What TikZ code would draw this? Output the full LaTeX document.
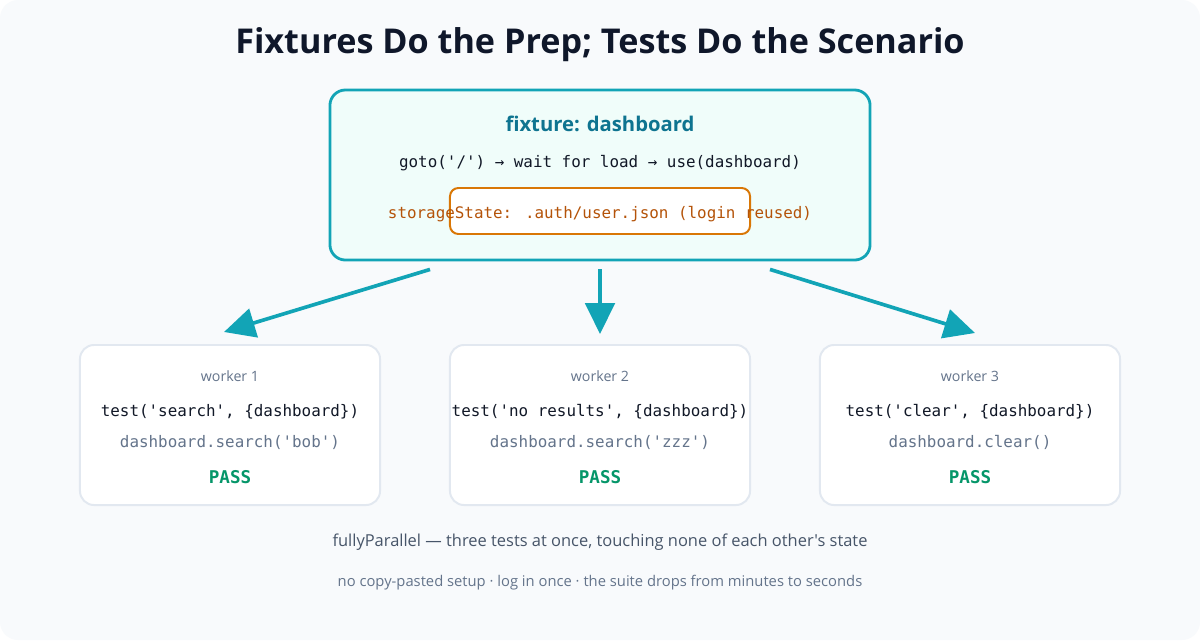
\documentclass[tikz,border=0pt]{standalone}
\usepackage{fontspec}
\setmainfont{Open Sans}[Ligatures=TeXOff]
\newfontfamily\codefont{DejaVu Sans Mono}[Ligatures=TeXOff]
\usetikzlibrary{arrows.meta,calc}

\definecolor{pagebg}{HTML}{F8FAFC}
\definecolor{ink}{HTML}{0F172A}
\definecolor{codeink}{HTML}{111827}
\definecolor{tealline}{HTML}{12A4B6}
\definecolor{tealbg}{HTML}{F0FDFA}
\definecolor{tealtext}{HTML}{0E7490}
\definecolor{orangeline}{HTML}{D97706}
\definecolor{orangetext}{HTML}{B45309}
\definecolor{cardline}{HTML}{E2E8F0}
\definecolor{muted}{HTML}{64748B}
\definecolor{slate}{HTML}{475569}
\definecolor{passgreen}{HTML}{059669}

\begin{document}
\begin{tikzpicture}[x=0.025cm,y=-0.025cm,
  >={Triangle[length=22pt,width=21pt]},
  card/.style={draw=cardline,line width=1.4pt,fill=white,rounded corners=10pt,
    minimum width=7.5cm,minimum height=4cm},
  code/.style={font=\codefont\fontsize{11.3}{13}\selectfont,text=codeink},
  label/.style={font=\fontsize{10.1}{12}\selectfont,text=muted},
  pass/.style={font=\codefont\bfseries\fontsize{12.5}{14}\selectfont,text=passgreen},
  link/.style={->,draw=tealline,fill=tealline,line width=2.6pt}]

  % Page
  \useasboundingbox (0,0) rectangle (1200,640);
  \fill[white] (0,0) rectangle (1200,640);
  \fill[pagebg,rounded corners=13pt] (0,0) rectangle (1200,640);

  \node[font=\bfseries\fontsize{24.3}{28}\selectfont,text=ink] (title) at (600,45)
    {Fixtures Do the Prep; Tests Do the Scenario};

  % Fixture box
  \node[draw=tealline,line width=2pt,fill=tealbg,rounded corners=11pt,
    minimum width=13.5cm,minimum height=4.25cm] (fixture) at (600,175) {};
  \node[draw=orangeline,line width=1.4pt,fill=white,rounded corners=6pt,
    minimum width=7.5cm,minimum height=1.15cm] (auth) at (600,211) {};
  \node[font=\bfseries\fontsize{14.4}{17}\selectfont,text=tealtext] (fixname) at (600,124)
    {fixture: dashboard};
  \node[code] (steps) at (600,163.5) {goto('/') → wait for load → use(dashboard)};
  \node[code,text=orangetext] (state) at (600,214)
    {storageState: .auth/user.json (login reused)};

  % Workers
  \foreach \n/\cx/\call/\act in {
      1/230/{test('search', \{dashboard\})}/{dashboard.search('bob')},
      2/600/{test('no results', \{dashboard\})}/{dashboard.search('zzz')},
      3/970/{test('clear', \{dashboard\})}/{dashboard.clear()}} {
    \node[card] (w\n) at (\cx,425) {};
    \node[label] (w\n-label) at (\cx,376) {worker \n};
    \node[code] (w\n-test) at (\cx,411.5) {\call};
    \node[code,text=muted] (w\n-act) at (\cx,442.5) {\act};
    \node[pass] (w\n-pass) at (\cx,477) {PASS};
  }

  % Fan-out
  \draw[link] ($(fixture.south)+(-170,8)$) -- ($(w1.north)+(-6,-12)$);
  \draw[link] ($(fixture.south)+(0,8)$) -- ($(w2.north)+(0,-10)$);
  \draw[link] ($(fixture.south)+(170,8)$) -- ($(w3.north)+(5,-11)$);

  % Notes
  \node[font=\fontsize{11.7}{14}\selectfont,text=slate] (note) at (600,542)
    {fullyParallel — three tests at once, touching none of each other's state};
  \node[font=\fontsize{10.5}{13}\selectfont,text=muted] (gain) at (600,582.5)
    {no copy-pasted setup · log in once · the suite drops from minutes to seconds};
\end{tikzpicture}
\end{document}
